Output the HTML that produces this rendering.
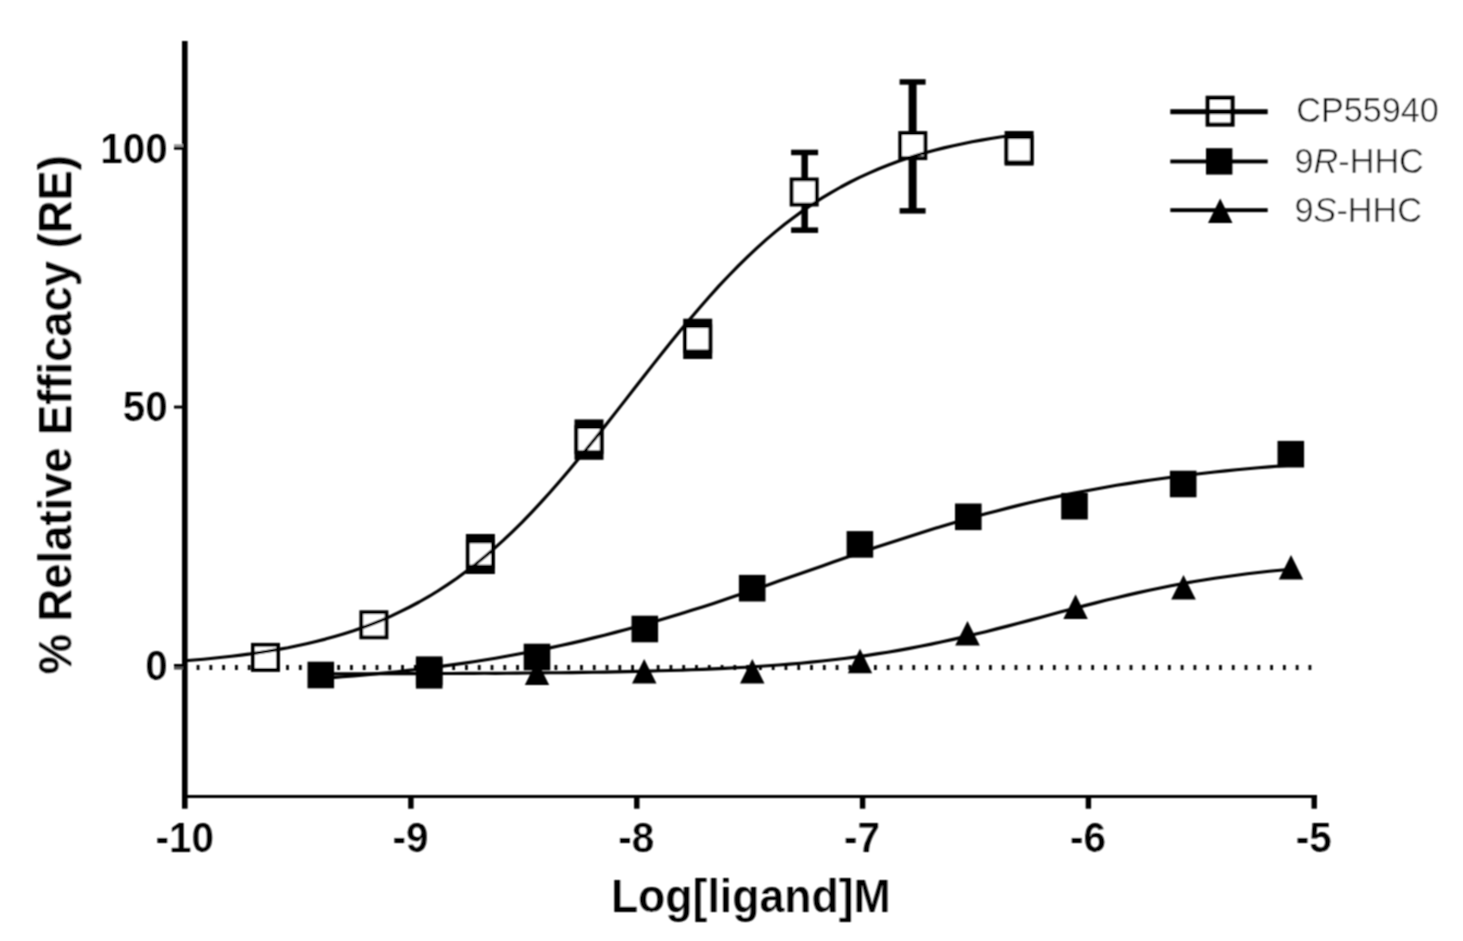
<!DOCTYPE html>
<html><head><meta charset="utf-8"><title>Dose response</title>
<style>html,body{margin:0;padding:0;background:#fff}body{width:1463px;height:941px;overflow:hidden}</style></head>
<body>
<svg width="1463" height="941" viewBox="0 0 1463 941" style="display:block">
<rect width="1463" height="941" fill="#fff"/>
<defs><filter id="soft" x="0" y="0" width="1463" height="941" filterUnits="userSpaceOnUse"><feConvolveMatrix order="3" kernelMatrix="1 2 1 2 4 2 1 2 1" divisor="16" edgeMode="duplicate" preserveAlpha="false"/></filter></defs>
<g filter="url(#soft)">
<line x1="183.88" y1="667.5" x2="1312" y2="667.5" stroke="#000" stroke-width="4.8" stroke-dasharray="2.8 9.98"/>
<rect x="182" y="41" width="5.6" height="767.7" fill="#000"/>
<rect x="182" y="795" width="1135" height="3" fill="#000"/>
<rect x="408.2" y="796" width="5.4" height="12.7" fill="#000"/>
<rect x="634.1" y="796" width="5.4" height="12.7" fill="#000"/>
<rect x="859.9" y="796" width="5.4" height="12.7" fill="#000"/>
<rect x="1085.7" y="796" width="5.4" height="12.7" fill="#000"/>
<rect x="1311.5" y="796" width="5.4" height="12.7" fill="#000"/>
<rect x="174" y="144.2" width="9" height="2.8" fill="#9a9a9a"/>
<rect x="174" y="146.9" width="9" height="2.8" fill="#000"/>
<rect x="174" y="405.6" width="9" height="2.9" fill="#000"/>
<rect x="174" y="664" width="9" height="2.9" fill="#000"/>
<rect x="174" y="666.9" width="9" height="2.7" fill="#555"/>
<rect x="801.4" y="152.4" width="6.5" height="77.8" fill="#000"/>
<rect x="791.1" y="149.7" width="27" height="5.5" fill="#000"/>
<rect x="791.1" y="227.4" width="27" height="5.5" fill="#000"/>
<rect x="908.6" y="82.0" width="8" height="128.8" fill="#000"/>
<rect x="899.6" y="79.2" width="26" height="5.5" fill="#000"/>
<rect x="899.6" y="208.1" width="26" height="5.5" fill="#000"/>
<rect x="252.9" y="644.8" width="25.2" height="25.2" fill="#fff" stroke="#000" stroke-width="3.8"/>
<rect x="361.3" y="612.2" width="25.2" height="25.2" fill="#fff" stroke="#000" stroke-width="3.8"/>
<rect x="465.9" y="534.0" width="29.0" height="40.0" fill="#000"/>
<rect x="467.8" y="541.4" width="25.2" height="25.2" fill="#fff" stroke="#000" stroke-width="3.8"/>
<rect x="574.5" y="419.4" width="29.0" height="40.4" fill="#000"/>
<rect x="576.4" y="427.0" width="25.2" height="25.2" fill="#fff" stroke="#000" stroke-width="3.8"/>
<rect x="683.2" y="318.7" width="29.0" height="40.3" fill="#000"/>
<rect x="685.1" y="326.2" width="25.2" height="25.2" fill="#fff" stroke="#000" stroke-width="3.8"/>
<rect x="791.6" y="179.4" width="25.2" height="25.2" fill="#fff" stroke="#000" stroke-width="3.8"/>
<rect x="900.2" y="133.0" width="25.2" height="25.2" fill="#fff" stroke="#000" stroke-width="3.8"/>
<rect x="1004.6" y="131.0" width="29.0" height="34.6" fill="#000"/>
<rect x="1006.5" y="137.2" width="25.2" height="25.2" fill="#fff" stroke="#000" stroke-width="3.8"/>
<rect x="415.9" y="656.4" width="26.6" height="32.2" fill="#000"/>
<rect x="307.5" y="661.7" width="26.6" height="26.6" fill="#000"/>
<rect x="415.9" y="658.7" width="26.6" height="26.6" fill="#000"/>
<rect x="523.7" y="643.7" width="26.6" height="26.6" fill="#000"/>
<rect x="631.5" y="615.7" width="26.6" height="26.6" fill="#000"/>
<rect x="738.9" y="574.9" width="26.6" height="26.6" fill="#000"/>
<rect x="846.6" y="531.1" width="26.6" height="26.6" fill="#000"/>
<rect x="955.0" y="503.5" width="26.6" height="26.6" fill="#000"/>
<rect x="1061.2" y="492.9" width="26.6" height="26.6" fill="#000"/>
<rect x="1169.9" y="470.7" width="26.6" height="26.6" fill="#000"/>
<rect x="1277.5" y="440.9" width="26.6" height="26.6" fill="#000"/>
<polygon points="537.0,660.5 549.2,685.0 524.8,685.0" fill="#000"/>
<polygon points="644.2,659.0 656.5,683.5 632.0,683.5" fill="#000"/>
<polygon points="752.3,659.0 764.5,683.5 740.0,683.5" fill="#000"/>
<polygon points="860.0,648.8 872.2,673.3 847.8,673.3" fill="#000"/>
<polygon points="967.5,621.0 979.8,645.5 955.2,645.5" fill="#000"/>
<polygon points="1075.6,594.5 1087.8,619.0 1063.3,619.0" fill="#000"/>
<polygon points="1183.5,575.0 1195.8,599.5 1171.2,599.5" fill="#000"/>
<polygon points="1291.0,555.0 1303.2,579.5 1278.8,579.5" fill="#000"/>
<path d="M184.8,660.8 L194.1,660.0 L203.5,659.2 L212.9,658.3 L222.2,657.3 L231.6,656.3 L241.0,655.1 L250.4,653.9 L259.7,652.5 L269.1,651.0 L278.5,649.4 L287.9,647.7 L297.2,645.8 L306.6,643.7 L316.0,641.5 L325.4,639.1 L334.7,636.5 L344.1,633.7 L353.5,630.7 L362.8,627.4 L372.2,623.9 L381.6,620.2 L391.0,616.1 L400.3,611.7 L409.7,607.0 L419.1,602.0 L428.5,596.7 L437.8,591.0 L447.2,584.9 L456.6,578.5 L466.0,571.6 L475.3,564.4 L484.7,556.7 L494.1,548.7 L503.5,540.2 L512.8,531.3 L522.2,522.1 L531.6,512.4 L540.9,502.4 L550.3,492.0 L559.7,481.3 L569.1,470.3 L578.4,459.1 L587.8,447.6 L597.2,435.9 L606.6,424.0 L615.9,412.1 L625.3,400.1 L634.7,388.0 L644.1,376.0 L653.4,364.1 L662.8,352.2 L672.2,340.6 L681.6,329.1 L690.9,317.9 L700.3,306.9 L709.7,296.3 L719.0,285.9 L728.4,276.0 L737.8,266.4 L747.2,257.2 L756.5,248.4 L765.9,239.9 L775.3,231.9 L784.7,224.3 L794.0,217.2 L803.4,210.4 L812.8,204.0 L822.2,197.9 L831.5,192.3 L840.9,187.0 L850.3,182.0 L859.6,177.4 L869.0,173.1 L878.4,169.0 L887.8,165.3 L897.1,161.8 L906.5,158.6 L915.9,155.6 L925.3,152.8 L934.6,150.3 L944.0,147.9 L953.4,145.7 L962.8,143.7 L972.1,141.8 L981.5,140.1 L990.9,138.5 L1000.3,137.0 L1009.6,135.7 L1019.0,134.5" fill="none" stroke="#000" stroke-width="3.15" stroke-linejoin="round"/>
<path d="M321.0,678.5 L331.9,677.7 L342.8,676.8 L353.7,675.9 L364.6,674.9 L375.5,673.9 L386.4,672.8 L397.3,671.7 L408.2,670.4 L419.1,669.2 L430.0,667.8 L440.9,666.4 L451.8,664.9 L462.7,663.4 L473.6,661.7 L484.5,660.0 L495.4,658.2 L506.3,656.3 L517.2,654.3 L528.1,652.3 L539.0,650.1 L549.9,647.9 L560.8,645.5 L571.7,643.1 L582.6,640.6 L593.5,637.9 L604.4,635.2 L615.3,632.4 L626.2,629.5 L637.1,626.5 L648.0,623.5 L658.9,620.3 L669.8,617.1 L680.7,613.7 L691.6,610.3 L702.5,606.9 L713.4,603.4 L724.3,599.8 L735.2,596.1 L746.1,592.4 L757.0,588.7 L767.9,584.9 L778.8,581.1 L789.7,577.3 L800.6,573.5 L811.4,569.7 L822.3,565.9 L833.2,562.0 L844.1,558.3 L855.0,554.5 L865.9,550.8 L876.8,547.1 L887.7,543.5 L898.6,539.9 L909.5,536.4 L920.4,532.9 L931.3,529.5 L942.2,526.2 L953.1,523.0 L964.0,519.8 L974.9,516.8 L985.8,513.8 L996.7,510.9 L1007.6,508.1 L1018.5,505.4 L1029.4,502.8 L1040.3,500.3 L1051.2,497.9 L1062.1,495.6 L1073.0,493.4 L1083.9,491.2 L1094.8,489.2 L1105.7,487.2 L1116.6,485.3 L1127.5,483.6 L1138.4,481.9 L1149.3,480.2 L1160.2,478.7 L1171.1,477.2 L1182.0,475.8 L1192.9,474.5 L1203.8,473.2 L1214.7,472.0 L1225.6,470.9 L1236.5,469.8 L1247.4,468.8 L1258.3,467.8 L1269.2,466.9 L1280.1,466.0 L1291.0,465.2" fill="none" stroke="#000" stroke-width="3.15" stroke-linejoin="round"/>
<path d="M321.0,673.8 L331.9,673.8 L342.8,673.8 L353.7,673.8 L364.6,673.7 L375.5,673.7 L386.4,673.7 L397.3,673.7 L408.2,673.6 L419.1,673.6 L430.0,673.6 L440.9,673.5 L451.8,673.5 L462.7,673.4 L473.6,673.4 L484.5,673.3 L495.4,673.3 L506.3,673.2 L517.2,673.1 L528.1,673.0 L539.0,672.9 L549.9,672.8 L560.8,672.7 L571.7,672.6 L582.6,672.4 L593.5,672.2 L604.4,672.1 L615.3,671.9 L626.2,671.6 L637.1,671.4 L648.0,671.1 L658.9,670.8 L669.8,670.5 L680.7,670.2 L691.6,669.8 L702.5,669.4 L713.4,668.9 L724.3,668.4 L735.2,667.8 L746.1,667.2 L757.0,666.5 L767.9,665.8 L778.8,665.0 L789.7,664.1 L800.6,663.2 L811.4,662.1 L822.3,661.0 L833.2,659.8 L844.1,658.5 L855.0,657.1 L865.9,655.6 L876.8,653.9 L887.7,652.2 L898.6,650.4 L909.5,648.4 L920.4,646.3 L931.3,644.1 L942.2,641.8 L953.1,639.4 L964.0,636.9 L974.9,634.3 L985.8,631.7 L996.7,628.9 L1007.6,626.1 L1018.5,623.2 L1029.4,620.4 L1040.3,617.4 L1051.2,614.5 L1062.1,611.6 L1073.0,608.7 L1083.9,605.9 L1094.8,603.1 L1105.7,600.3 L1116.6,597.7 L1127.5,595.1 L1138.4,592.6 L1149.3,590.2 L1160.2,588.0 L1171.1,585.8 L1182.0,583.8 L1192.9,581.8 L1203.8,580.0 L1214.7,578.3 L1225.6,576.7 L1236.5,575.2 L1247.4,573.8 L1258.3,572.5 L1269.2,571.3 L1280.1,570.2 L1291.0,569.2" fill="none" stroke="#000" stroke-width="3.15" stroke-linejoin="round"/>
<rect x="1170.3" y="109.2" width="97.4" height="5" fill="#000"/>
<rect x="1170.3" y="159.5" width="97.4" height="3.9" fill="#000"/>
<rect x="1170.3" y="208.2" width="97.4" height="3.9" fill="#000"/>
<rect x="1207.7" y="97.8" width="24.8" height="26.8" fill="#fff" stroke="#000" stroke-width="4.2"/>
<rect x="1207" y="109.2" width="26" height="5" fill="#000"/>
<rect x="1206.0" y="148.2" width="26.4" height="26.4" fill="#000"/>
<polygon points="1220.2,198.4 1232.5,223.0 1208.0,223.0" fill="#000"/>
<text x="1296.2" y="121.7" font-family="Liberation Sans, Arial, Helvetica, sans-serif" font-size="34.2" fill="#000" stroke="#fff" stroke-width="0.45">CP55940</text>
<text x="1294.6" y="172.9" font-family="Liberation Sans, Arial, Helvetica, sans-serif" font-size="34.2" fill="#000" stroke="#fff" stroke-width="0.45">9<tspan font-style="italic">R</tspan>-HHC</text>
<text x="1294.6" y="221.8" font-family="Liberation Sans, Arial, Helvetica, sans-serif" font-size="34.2" fill="#000" stroke="#fff" stroke-width="0.45">9<tspan font-style="italic">S</tspan>-HHC</text>
<text transform="translate(167.8,680.4) scale(0.935,1)" font-family="Liberation Sans, Arial, Helvetica, sans-serif" font-size="43.3" font-weight="bold" fill="#000" stroke="#fff" stroke-width="0.2" text-anchor="end">0</text>
<text transform="translate(167.8,421.4) scale(0.935,1)" font-family="Liberation Sans, Arial, Helvetica, sans-serif" font-size="43.3" font-weight="bold" fill="#000" stroke="#fff" stroke-width="0.2" text-anchor="end">50</text>
<text transform="translate(167.8,162.8) scale(0.935,1)" font-family="Liberation Sans, Arial, Helvetica, sans-serif" font-size="43.3" font-weight="bold" fill="#000" stroke="#fff" stroke-width="0.2" text-anchor="end">100</text>
<text transform="translate(184.7,852.2) scale(0.935,1)" font-family="Liberation Sans, Arial, Helvetica, sans-serif" font-size="43.3" font-weight="bold" fill="#000" stroke="#fff" stroke-width="0.2" text-anchor="middle">-10</text>
<text transform="translate(410.4,852.2) scale(0.935,1)" font-family="Liberation Sans, Arial, Helvetica, sans-serif" font-size="43.3" font-weight="bold" fill="#000" stroke="#fff" stroke-width="0.2" text-anchor="middle">-9</text>
<text transform="translate(636.2,852.2) scale(0.935,1)" font-family="Liberation Sans, Arial, Helvetica, sans-serif" font-size="43.3" font-weight="bold" fill="#000" stroke="#fff" stroke-width="0.2" text-anchor="middle">-8</text>
<text transform="translate(862.1,852.2) scale(0.935,1)" font-family="Liberation Sans, Arial, Helvetica, sans-serif" font-size="43.3" font-weight="bold" fill="#000" stroke="#fff" stroke-width="0.2" text-anchor="middle">-7</text>
<text transform="translate(1087.9,852.2) scale(0.935,1)" font-family="Liberation Sans, Arial, Helvetica, sans-serif" font-size="43.3" font-weight="bold" fill="#000" stroke="#fff" stroke-width="0.2" text-anchor="middle">-6</text>
<text transform="translate(1313.7,852.2) scale(0.935,1)" font-family="Liberation Sans, Arial, Helvetica, sans-serif" font-size="43.3" font-weight="bold" fill="#000" stroke="#fff" stroke-width="0.2" text-anchor="middle">-5</text>
<text transform="translate(750.8,911.9) scale(0.978,1)" font-family="Liberation Sans, Arial, Helvetica, sans-serif" font-size="45.6" font-weight="bold" fill="#000" stroke="#fff" stroke-width="0.2" text-anchor="middle">Log[ligand]M</text>
<text transform="translate(71.2,414.8) rotate(-90)" font-family="Liberation Sans, Arial, Helvetica, sans-serif" font-size="45.35" font-weight="bold" fill="#000" stroke="#fff" stroke-width="0.2" text-anchor="middle">% Relative Efficacy (RE)</text>
</g>
</svg>
</body></html>
